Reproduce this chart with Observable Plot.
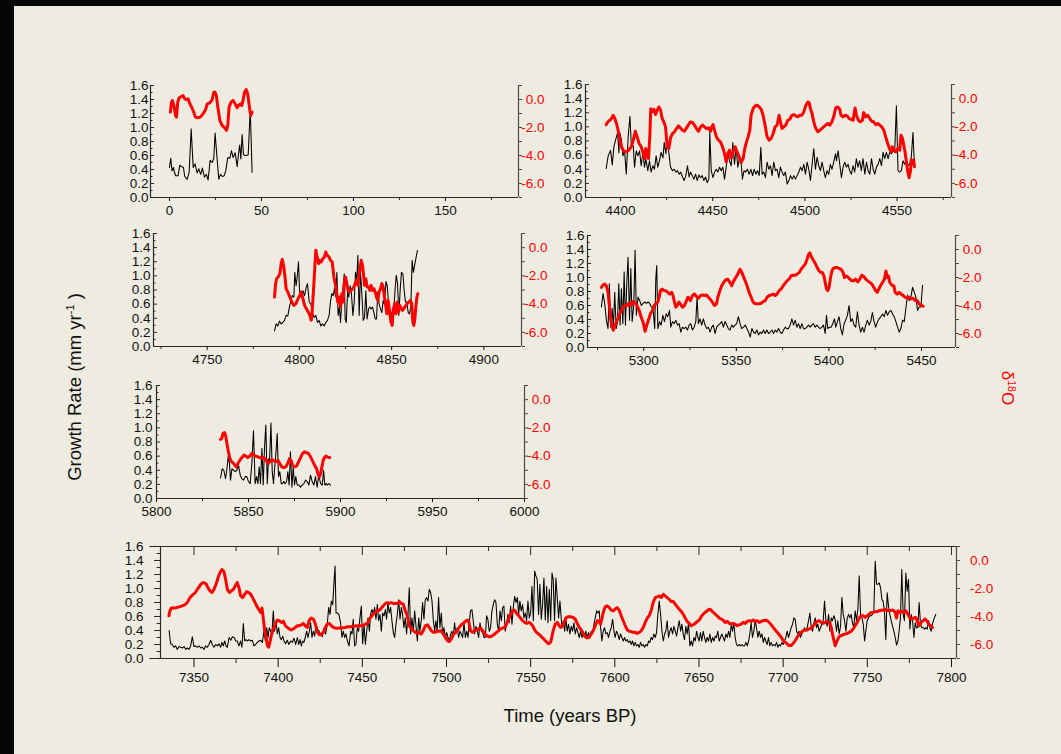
<!DOCTYPE html>
<html><head><meta charset="utf-8">
<script src="https://cdn.jsdelivr.net/npm/d3@7"></script>
<script src="https://cdn.jsdelivr.net/npm/@observablehq/plot@0.6"></script>
<style>
html,body{margin:0;padding:0;}
body{width:1061px;height:754px;background:#EEEBE0;position:relative;overflow:hidden;font-family:"Liberation Sans",Arial,Helvetica,sans-serif;}
#topbar{position:absolute;left:0;top:0;width:1061px;height:6px;background:#050505;}
#leftbar{position:absolute;left:0;top:0;width:14px;height:754px;background:#050505;}
.panel{position:absolute;}
.panel svg{position:absolute;left:0;top:0;overflow:visible;}
.title{position:absolute;white-space:nowrap;font-size:18.5px;line-height:1;color:#111;}
.title sup{font-size:11px;vertical-align:0;position:relative;top:-7px;}
</style></head><body>
<div id="topbar"></div><div id="leftbar"></div>
<div id="chart"></div>
<div class="title" style="left:75px;top:387px;transform:translate(-50%,-50%) rotate(-90deg);">Growth Rate (mm yr<sup>-1</sup> )</div>
<div class="title" style="left:570px;top:716px;transform:translate(-50%,-50%);">Time (years BP)</div>
<div class="title" style="left:1007px;top:388px;transform:translate(-50%,-50%) rotate(90deg);color:#ff0000;font-size:17px;">δ<sup style="font-size:10.5px;top:-6px;">18</sup>O</div>
<script>
// ---------- tick values ----------
const growthTicks = [0, 0.2, 0.4, 0.6, 0.8, 1.0, 1.2, 1.4, 1.6];
const growthMinor = [0.1, 0.3, 0.5, 0.7, 0.9, 1.1, 1.3, 1.5];
const isoTicks = [-6, -4, -2, 0];
const isoAllTicks = [-7, -6, -5, -4, -3, -2, -1, 0, 1];

const xMajorA = [0, 50, 100, 150];
const xMinorA = [25, 75, 125, 175];
const xMajorB = [4400, 4450, 4500, 4550];
const xMinorB = [4425, 4475, 4525, 4575];
const xMajorC = [4750, 4800, 4850, 4900];
const xMinorC = [4725, 4775, 4825, 4875];
const xMajorD = [5300, 5350, 5400, 5450];
const xMinorD = [5275, 5325, 5375, 5425];
const xMajorE = [5800, 5850, 5900, 5950, 6000];
const xMinorE = [5825, 5875, 5925, 5975];
const xMajorF = [7350, 7400, 7450, 7500, 7550, 7600, 7650, 7700, 7750, 7800];
const xMinorF = [7375, 7425, 7475, 7525, 7575, 7625, 7675, 7725, 7775];

// ---------- data: [year BP, value] ----------
const growthA = [[0,0.43],[0.7,0.56],[1.4,0.38],[2.2,0.43],[2.7,0.36],[3.4,0.31],[4.7,0.31],[5.6,0.46],[6.7,0.44],[7.6,0.43],[8.3,0.30],[9.6,0.26],[10.7,0.36],[11.8,0.98],[12.9,0.43],[13.9,0.48],[15.0,0.35],[15.9,0.41],[17.0,0.33],[17.9,0.42],[19.0,0.29],[20.1,0.33],[21.0,0.25],[22.1,0.53],[23.2,0.50],[24.1,0.56],[24.8,0.92],[25.7,0.62],[26.8,0.26],[27.7,0.33],[28.8,0.30],[29.7,0.31],[30.6,0.38],[31.7,0.57],[32.8,0.56],[33.7,0.67],[34.6,0.57],[35.7,0.64],[36.8,0.44],[37.5,0.62],[38.2,0.75],[38.8,0.55],[39.5,0.90],[40.2,0.62],[40.9,0.60],[41.8,0.60],[42.8,0.61],[43.7,1.15],[44.0,1.19],[44.9,0.36]];
const isoA = [[0.5,-0.90],[1.1,-0.19],[1.6,-0.07],[2.4,-0.43],[3.3,-1.14],[3.8,-1.26],[4.5,-0.19],[5.3,0.12],[6.5,0.21],[7.4,0.28],[8.3,0.05],[9.2,-0.02],[10.1,0.05],[11.1,-0.31],[12.1,-0.55],[13.2,-0.90],[14.1,-1.26],[15.4,-1.30],[16.8,-1.26],[18.3,-1.02],[19.6,-0.73],[20.5,-0.31],[21.9,-0.24],[23.2,-0.02],[24.1,0.52],[24.8,0.52],[25.5,0.28],[26.3,-0.55],[27.4,-1.49],[28.6,-1.85],[29.9,-2.01],[31.0,-2.20],[31.7,-1.85],[32.4,-0.55],[33.5,-0.19],[34.6,-0.07],[35.7,-0.31],[36.8,-0.59],[37.5,-0.43],[38.6,-0.31],[39.3,-0.43],[40.0,-0.07],[40.8,0.52],[41.7,0.71],[42.4,0.47],[42.9,0.05],[43.7,-0.78],[44.2,-1.14],[44.9,-0.90]];

const growthB = [[4392.2,0.41],[4393.3,0.59],[4394.6,0.67],[4395.5,0.46],[4396.4,0.72],[4397.5,0.83],[4398.4,0.92],[4399.1,0.63],[4399.6,0.92],[4400.5,0.81],[4401.3,0.59],[4402.2,0.66],[4403.1,0.33],[4404.2,0.88],[4405.1,1.15],[4405.8,0.76],[4406.9,0.73],[4407.6,0.43],[4408.5,0.66],[4409.4,0.59],[4410.3,0.66],[4411.2,0.45],[4412.1,0.64],[4413.0,0.43],[4413.7,0.55],[4414.8,0.38],[4415.7,0.52],[4416.6,0.36],[4417.5,0.45],[4418.4,0.40],[4419.3,0.59],[4420.2,0.43],[4421.1,0.52],[4422.0,0.64],[4423.0,0.56],[4423.7,0.78],[4424.6,0.62],[4425.3,0.81],[4426.2,0.64],[4427.1,0.43],[4428.2,0.38],[4429.1,0.40],[4430.0,0.36],[4430.9,0.38],[4431.8,0.33],[4432.7,0.36],[4433.6,0.29],[4434.5,0.24],[4435.4,0.31],[4436.3,0.45],[4437.2,0.29],[4437.9,0.36],[4438.9,0.31],[4439.8,0.26],[4440.7,0.33],[4441.6,0.24],[4442.5,0.32],[4443.4,0.28],[4444.3,0.31],[4445.2,0.24],[4446.1,0.29],[4447.0,0.21],[4447.9,0.26],[4448.4,0.92],[4449.2,0.38],[4450.1,0.28],[4451.0,0.36],[4451.9,0.40],[4452.8,0.36],[4453.7,0.43],[4454.6,0.38],[4455.5,0.43],[4456.4,0.26],[4457.3,0.43],[4458.2,0.62],[4459.1,0.52],[4460.0,0.45],[4460.9,0.78],[4461.8,0.47],[4462.7,0.71],[4463.6,0.43],[4464.5,0.55],[4465.4,0.50],[4466.1,0.26],[4467.0,0.38],[4467.9,0.36],[4468.8,0.40],[4469.7,0.33],[4470.7,0.40],[4471.6,0.31],[4472.5,0.40],[4473.4,0.33],[4474.3,0.38],[4475.2,0.31],[4476.1,0.71],[4476.8,0.33],[4477.7,0.36],[4478.6,0.28],[4479.5,0.50],[4480.4,0.40],[4481.3,0.45],[4482.2,0.31],[4483.1,0.50],[4484.0,0.38],[4484.9,0.40],[4485.8,0.28],[4486.7,0.43],[4487.6,0.36],[4488.5,0.31],[4489.4,0.36],[4490.4,0.19],[4491.3,0.24],[4492.2,0.31],[4493.1,0.26],[4494.0,0.31],[4494.9,0.26],[4495.8,0.31],[4496.7,0.36],[4497.6,0.43],[4498.5,0.38],[4499.4,0.47],[4500.3,0.33],[4501.2,0.50],[4502.1,0.40],[4503.0,0.24],[4503.9,0.47],[4504.8,0.69],[4505.7,0.40],[4506.6,0.57],[4507.5,0.45],[4508.4,0.38],[4509.3,0.50],[4510.2,0.38],[4511.1,0.28],[4512.0,0.38],[4512.9,0.33],[4513.8,0.47],[4514.7,0.40],[4515.6,0.50],[4516.6,0.62],[4517.1,0.52],[4518.0,0.66],[4518.9,0.47],[4519.8,0.28],[4520.7,0.43],[4521.6,0.50],[4522.5,0.43],[4523.4,0.47],[4524.3,0.38],[4525.2,0.33],[4526.1,0.45],[4527.0,0.36],[4527.9,0.55],[4528.8,0.43],[4529.7,0.52],[4530.6,0.38],[4531.5,0.55],[4532.5,0.33],[4533.4,0.50],[4534.3,0.38],[4535.2,0.33],[4536.1,0.55],[4537.0,0.40],[4537.9,0.33],[4538.8,0.43],[4539.7,0.47],[4540.6,0.55],[4541.5,0.45],[4542.4,0.64],[4543.3,0.55],[4544.2,0.64],[4545.1,0.55],[4546.0,0.64],[4546.9,0.62],[4547.8,0.66],[4548.7,0.64],[4549.6,1.30],[4550.5,0.38],[4551.4,0.36],[4552.3,0.38],[4553.2,0.52],[4554.1,0.47],[4555.0,0.52],[4555.9,0.45],[4556.8,0.47],[4557.7,0.57],[4558.6,0.92],[4559.4,0.45]];
const isoB = [[4392.2,-1.84],[4393.1,-1.65],[4394.2,-1.53],[4395.1,-1.41],[4396.0,-1.18],[4396.9,-1.41],[4397.8,-1.76],[4398.7,-2.24],[4399.6,-2.94],[4400.5,-3.41],[4401.8,-3.72],[4403.1,-3.76],[4404.5,-3.65],[4405.8,-3.41],[4406.9,-2.94],[4408.0,-2.31],[4409.0,-2.71],[4410.1,-3.18],[4411.2,-3.41],[4412.3,-3.88],[4413.0,-4.24],[4413.7,-3.53],[4414.5,-4.12],[4415.2,-4.24],[4415.9,-2.59],[4416.4,-0.71],[4417.2,-0.94],[4418.1,-0.75],[4419.0,-1.13],[4419.9,-0.82],[4420.8,-0.59],[4421.7,-0.82],[4422.6,-1.41],[4423.5,-1.65],[4424.4,-2.00],[4425.3,-3.41],[4426.2,-3.53],[4427.1,-2.78],[4428.2,-2.47],[4429.3,-2.35],[4430.4,-2.12],[4431.4,-1.93],[4432.5,-2.07],[4433.6,-2.24],[4434.7,-2.31],[4435.8,-2.07],[4436.9,-1.84],[4437.9,-1.65],[4439.0,-1.69],[4440.1,-1.88],[4441.2,-2.12],[4442.3,-2.31],[4443.4,-2.00],[4444.5,-1.88],[4445.5,-2.00],[4446.6,-2.12],[4447.7,-2.07],[4448.8,-2.31],[4449.5,-2.00],[4450.2,-1.84],[4451.0,-2.24],[4452.0,-2.71],[4453.1,-2.94],[4454.2,-3.06],[4455.3,-3.41],[4456.4,-3.88],[4457.3,-4.47],[4458.2,-3.88],[4459.1,-3.65],[4460.0,-4.19],[4461.1,-3.76],[4462.2,-3.41],[4463.2,-3.76],[4464.3,-4.12],[4465.4,-4.52],[4466.5,-4.24],[4467.4,-3.53],[4468.3,-3.06],[4469.2,-2.71],[4470.1,-2.24],[4470.8,-1.18],[4471.9,-0.71],[4473.0,-0.52],[4474.1,-0.47],[4475.2,-0.59],[4476.3,-0.75],[4477.3,-1.18],[4478.4,-1.88],[4479.5,-2.71],[4480.6,-2.94],[4481.7,-2.82],[4482.8,-2.47],[4483.8,-2.00],[4484.9,-1.88],[4486.0,-1.18],[4486.7,-1.65],[4487.6,-2.12],[4488.5,-2.00],[4489.6,-1.88],[4490.7,-1.53],[4491.8,-1.46],[4492.9,-1.18],[4494.0,-1.13],[4495.0,-1.22],[4496.1,-1.29],[4497.2,-1.18],[4498.3,-1.18],[4499.4,-0.94],[4500.5,-0.47],[4501.6,-0.24],[4502.3,-0.28],[4503.0,-0.71],[4503.9,-1.06],[4504.8,-1.65],[4505.9,-2.12],[4507.0,-2.35],[4508.1,-2.24],[4509.1,-2.12],[4510.2,-2.00],[4511.3,-1.88],[4512.4,-1.76],[4513.5,-1.88],[4514.6,-1.65],[4515.6,-1.29],[4516.7,-0.66],[4517.8,-0.59],[4518.9,-0.75],[4519.6,-1.18],[4520.7,-1.29],[4521.8,-1.18],[4522.9,-1.22],[4524.0,-1.41],[4525.0,-1.46],[4526.1,-1.53],[4527.2,-0.66],[4527.9,-1.18],[4529.0,-1.53],[4530.1,-1.65],[4531.2,-1.53],[4531.9,-0.99],[4533.0,-1.29],[4534.1,-1.18],[4535.2,-1.41],[4536.2,-1.60],[4537.3,-1.65],[4538.4,-1.84],[4539.5,-1.76],[4540.6,-1.88],[4541.7,-2.00],[4542.8,-2.24],[4543.8,-2.71],[4544.9,-3.18],[4545.8,-3.53],[4546.7,-3.76],[4547.4,-3.41],[4548.2,-3.65],[4549.3,-3.76],[4550.3,-3.53],[4551.4,-3.65],[4552.1,-2.59],[4552.9,-2.82],[4553.6,-3.29],[4554.3,-3.76],[4555.0,-4.47],[4555.8,-5.18],[4556.5,-5.60],[4557.2,-5.18],[4557.7,-4.35],[4558.3,-4.59],[4559.0,-4.35],[4559.4,-4.82]];

const growthC = [[4786.5,0.22],[4787.4,0.32],[4788.3,0.29],[4789.2,0.36],[4790.1,0.32],[4791.0,0.34],[4791.9,0.37],[4792.8,0.44],[4793.7,0.43],[4794.6,0.56],[4795.4,0.64],[4796.1,0.72],[4797.0,0.70],[4797.5,1.05],[4798.2,0.86],[4798.8,0.98],[4799.5,1.20],[4800.1,0.77],[4801.0,0.70],[4801.9,0.79],[4802.8,0.72],[4803.7,0.84],[4804.4,0.89],[4805.3,0.63],[4806.2,0.60],[4807.1,0.48],[4808.0,0.41],[4808.9,0.44],[4809.8,0.34],[4810.7,0.37],[4811.6,0.29],[4812.5,0.32],[4813.4,0.29],[4814.3,0.34],[4815.2,0.37],[4816.1,0.44],[4816.9,0.65],[4817.6,0.75],[4818.3,0.72],[4819.0,0.82],[4819.7,0.70],[4820.3,1.05],[4821.0,0.44],[4821.7,0.56],[4822.3,0.34],[4823.0,0.65],[4823.5,0.77],[4824.3,1.03],[4824.8,0.39],[4825.4,0.34],[4826.1,0.77],[4826.8,0.70],[4827.5,0.86],[4828.2,0.75],[4829.0,0.44],[4829.7,0.63],[4830.4,1.05],[4831.1,0.94],[4831.7,1.29],[4832.4,0.44],[4833.1,1.05],[4833.8,0.77],[4834.6,0.37],[4835.3,0.41],[4836.0,0.79],[4836.7,0.39],[4837.5,0.53],[4838.2,0.56],[4838.9,0.53],[4839.6,0.56],[4840.4,0.48],[4841.1,0.39],[4841.8,0.39],[4842.5,0.77],[4843.2,0.60],[4844.0,0.53],[4844.7,0.48],[4845.4,0.65],[4846.1,0.60],[4846.9,0.92],[4847.6,0.86],[4848.3,0.63],[4849.0,0.41],[4849.7,0.48],[4850.5,0.46],[4851.2,0.53],[4851.9,0.82],[4852.5,1.01],[4853.2,0.89],[4853.9,0.44],[4854.6,0.79],[4855.3,1.05],[4856.1,1.03],[4856.8,0.79],[4857.5,0.63],[4858.2,0.63],[4859.0,0.48],[4859.7,0.46],[4860.4,0.56],[4861.1,1.22],[4861.8,1.05],[4862.6,1.17],[4863.3,1.27],[4864.0,1.36]];
const isoC = [[4786.5,-3.50],[4787.0,-2.67],[4787.6,-2.20],[4788.5,-2.08],[4789.4,-1.84],[4790.1,-1.13],[4790.7,-0.83],[4791.4,-1.25],[4792.1,-1.96],[4792.8,-2.91],[4793.7,-3.14],[4794.8,-3.50],[4795.9,-3.85],[4797.0,-4.09],[4798.1,-3.97],[4799.1,-3.66],[4800.2,-3.38],[4801.0,-3.14],[4801.7,-3.50],[4802.8,-4.09],[4803.8,-4.33],[4804.8,-4.56],[4805.7,-4.80],[4806.4,-5.15],[4806.9,-4.56],[4807.8,-2.67],[4808.4,-1.25],[4808.9,-0.19],[4809.6,-0.66],[4810.4,-1.13],[4811.1,-0.90],[4811.8,-1.02],[4812.7,-0.78],[4813.6,-0.66],[4814.3,-0.31],[4815.1,-0.54],[4816.0,-0.66],[4816.9,-0.90],[4817.8,-1.02],[4818.7,-2.08],[4819.4,-2.55],[4820.1,-3.14],[4820.8,-3.85],[4821.6,-3.50],[4822.3,-4.21],[4823.0,-3.26],[4823.7,-3.85],[4824.3,-2.55],[4825.0,-2.08],[4825.7,-2.55],[4826.4,-3.03],[4827.2,-3.14],[4828.1,-3.03],[4828.8,-2.91],[4829.5,-2.79],[4830.2,-2.55],[4831.0,-2.32],[4831.7,-2.67],[4832.2,-2.08],[4832.9,-1.49],[4833.5,-0.90],[4834.2,-1.25],[4834.7,-1.84],[4835.3,-2.67],[4836.0,-2.20],[4836.7,-2.79],[4837.5,-2.79],[4838.2,-3.03],[4838.9,-2.67],[4839.6,-3.03],[4840.4,-2.91],[4841.1,-3.14],[4841.8,-3.50],[4842.5,-3.74],[4843.2,-3.14],[4844.0,-2.91],[4844.7,-2.55],[4845.4,-2.79],[4846.1,-3.50],[4846.9,-4.21],[4847.4,-4.68],[4848.1,-3.74],[4848.8,-4.44],[4849.6,-5.27],[4850.3,-5.51],[4850.8,-4.44],[4851.6,-3.97],[4852.3,-4.68],[4853.0,-3.85],[4853.7,-4.56],[4854.4,-4.09],[4855.2,-4.33],[4855.9,-4.44],[4856.6,-4.33],[4857.5,-4.14],[4858.4,-3.97],[4859.3,-3.85],[4860.2,-3.74],[4860.9,-3.97],[4861.5,-5.27],[4862.0,-5.51],[4862.6,-5.04],[4863.1,-4.21],[4863.7,-3.50],[4864.2,-3.26]];

const growthD = [[5277.1,0.58],[5278.0,0.77],[5278.9,0.63],[5279.8,0.39],[5280.7,0.27],[5281.4,0.91],[5282.2,0.29],[5282.9,0.56],[5283.6,0.29],[5284.3,0.79],[5285.1,0.27],[5285.8,0.37],[5286.5,0.91],[5287.2,0.32],[5287.9,0.84],[5288.7,0.34],[5289.4,1.08],[5290.1,0.32],[5290.8,0.91],[5291.5,1.29],[5292.3,0.39],[5293.0,1.13],[5293.7,0.37],[5294.6,0.60],[5295.3,1.39],[5296.0,0.46],[5296.9,0.72],[5297.8,0.67],[5298.7,0.60],[5299.6,0.63],[5300.5,0.65],[5301.4,0.63],[5302.3,0.65],[5303.2,0.63],[5304.1,0.58],[5305.0,0.56],[5305.9,0.27],[5306.5,0.98],[5307.0,1.17],[5307.6,0.27],[5308.5,0.37],[5309.4,0.32],[5310.3,0.46],[5311.2,0.37],[5312.1,0.48],[5313.0,0.44],[5313.9,0.53],[5314.6,0.29],[5315.5,0.37],[5316.4,0.34],[5317.3,0.39],[5318.2,0.32],[5319.1,0.34],[5320.0,0.22],[5320.9,0.29],[5321.8,0.27],[5322.7,0.29],[5323.6,0.25],[5324.5,0.32],[5325.4,0.34],[5326.3,0.25],[5327.2,0.29],[5328.1,0.37],[5328.8,0.72],[5329.5,0.34],[5330.4,0.41],[5331.3,0.32],[5332.2,0.41],[5333.1,0.32],[5334.0,0.27],[5334.9,0.29],[5335.8,0.22],[5336.7,0.29],[5337.6,0.32],[5338.5,0.20],[5339.4,0.29],[5340.3,0.32],[5341.2,0.34],[5342.1,0.37],[5343.0,0.29],[5343.9,0.37],[5344.8,0.32],[5345.7,0.27],[5346.6,0.25],[5347.5,0.32],[5348.4,0.29],[5349.3,0.32],[5350.2,0.34],[5351.1,0.44],[5352.0,0.34],[5352.9,0.27],[5353.9,0.29],[5354.8,0.32],[5355.7,0.27],[5356.6,0.22],[5357.5,0.15],[5358.4,0.27],[5359.3,0.22],[5360.2,0.20],[5361.1,0.25],[5362.0,0.18],[5362.9,0.22],[5363.8,0.20],[5364.7,0.25],[5365.6,0.20],[5366.5,0.25],[5367.4,0.20],[5368.3,0.22],[5369.2,0.25],[5370.1,0.20],[5371.0,0.25],[5371.9,0.22],[5372.8,0.27],[5373.7,0.22],[5374.6,0.20],[5375.5,0.25],[5376.4,0.29],[5377.3,0.27],[5378.2,0.27],[5379.1,0.32],[5380.0,0.41],[5380.9,0.32],[5381.8,0.39],[5382.7,0.29],[5383.6,0.34],[5384.5,0.27],[5385.4,0.34],[5386.3,0.27],[5387.2,0.27],[5388.1,0.29],[5389.0,0.32],[5389.9,0.29],[5390.8,0.32],[5391.7,0.34],[5392.6,0.29],[5393.5,0.32],[5394.4,0.29],[5395.3,0.27],[5396.2,0.29],[5397.1,0.32],[5398.0,0.20],[5398.7,0.46],[5399.4,0.27],[5400.3,0.29],[5401.2,0.29],[5402.1,0.34],[5403.0,0.41],[5403.7,0.29],[5404.6,0.37],[5405.5,0.44],[5406.4,0.27],[5407.3,0.18],[5408.2,0.34],[5409.1,0.39],[5410.0,0.46],[5410.9,0.60],[5411.8,0.37],[5412.7,0.41],[5413.6,0.32],[5414.5,0.29],[5415.4,0.51],[5416.3,0.32],[5417.2,0.22],[5418.1,0.29],[5419.0,0.22],[5419.9,0.32],[5420.8,0.39],[5421.7,0.32],[5422.6,0.37],[5423.5,0.50],[5424.4,0.37],[5425.3,0.29],[5426.3,0.37],[5427.2,0.41],[5428.1,0.44],[5429.0,0.48],[5429.9,0.44],[5430.8,0.53],[5431.7,0.46],[5432.6,0.51],[5433.5,0.53],[5434.4,0.48],[5435.3,0.44],[5436.2,0.37],[5437.1,0.29],[5438.0,0.22],[5438.9,0.27],[5439.8,0.39],[5440.7,0.37],[5441.6,0.56],[5442.5,0.75],[5443.4,0.67],[5444.3,0.72],[5445.2,0.86],[5446.1,0.79],[5447.0,0.72],[5447.9,0.53],[5448.8,0.58],[5449.7,0.58],[5450.6,0.89]];
const isoD = [[5277.1,-2.71],[5278.0,-2.54],[5278.9,-2.47],[5279.8,-2.59],[5280.7,-3.06],[5281.4,-4.00],[5282.2,-5.06],[5282.9,-5.53],[5283.6,-5.76],[5284.5,-5.41],[5285.6,-5.06],[5286.7,-4.71],[5287.8,-4.35],[5288.8,-4.12],[5289.9,-4.00],[5291.0,-4.00],[5292.1,-3.81],[5293.2,-4.00],[5294.2,-3.72],[5295.3,-3.81],[5296.4,-4.00],[5297.5,-4.35],[5298.6,-4.82],[5299.6,-5.18],[5300.7,-5.84],[5301.6,-5.41],[5302.5,-5.06],[5303.6,-4.59],[5304.7,-4.35],[5305.6,-4.00],[5306.5,-3.88],[5307.6,-3.76],[5308.3,-3.41],[5309.0,-2.94],[5309.9,-2.82],[5310.8,-2.94],[5311.9,-2.94],[5313.0,-3.06],[5314.0,-3.18],[5315.1,-3.06],[5315.8,-3.29],[5316.6,-3.76],[5317.3,-4.12],[5318.0,-4.00],[5318.9,-3.76],[5319.8,-3.88],[5320.9,-4.12],[5322.0,-4.00],[5323.1,-3.65],[5323.8,-3.41],[5324.5,-3.48],[5325.2,-3.65],[5326.3,-3.29],[5327.4,-3.18],[5328.5,-3.36],[5329.5,-3.48],[5330.6,-3.29],[5331.7,-3.25],[5332.8,-3.29],[5333.9,-3.25],[5334.9,-3.41],[5336.0,-3.58],[5337.1,-3.76],[5338.2,-4.00],[5339.3,-3.88],[5340.0,-3.41],[5341.1,-2.94],[5342.1,-2.59],[5343.2,-2.35],[5344.3,-2.16],[5345.4,-2.12],[5346.5,-2.35],[5347.5,-2.59],[5348.6,-2.24],[5349.7,-2.00],[5350.8,-1.76],[5351.9,-1.41],[5352.6,-1.53],[5353.7,-1.88],[5354.8,-2.24],[5355.8,-2.59],[5356.9,-3.06],[5358.0,-3.41],[5359.1,-3.76],[5360.2,-3.88],[5361.2,-3.88],[5362.3,-3.88],[5363.4,-3.84],[5364.5,-3.72],[5365.6,-3.65],[5366.6,-3.41],[5367.7,-3.29],[5368.8,-3.25],[5369.9,-3.18],[5371.0,-3.29],[5372.0,-3.18],[5373.1,-2.94],[5374.2,-2.82],[5375.3,-2.59],[5376.4,-2.40],[5377.4,-2.24],[5378.5,-2.12],[5379.6,-1.88],[5380.7,-1.84],[5381.8,-1.84],[5382.8,-1.76],[5383.9,-1.65],[5385.0,-1.41],[5386.1,-1.22],[5387.2,-1.06],[5388.2,-0.71],[5389.0,-0.35],[5389.7,-0.24],[5390.4,-0.47],[5391.1,-0.66],[5391.9,-0.82],[5392.6,-0.99],[5393.7,-1.29],[5394.7,-1.53],[5395.8,-1.65],[5396.5,-1.65],[5397.3,-1.88],[5398.0,-2.35],[5398.7,-2.82],[5399.4,-2.94],[5400.1,-2.71],[5400.9,-2.00],[5401.6,-1.53],[5402.3,-1.36],[5403.4,-1.29],[5404.5,-1.29],[5405.5,-1.36],[5406.6,-1.41],[5407.7,-1.65],[5408.4,-2.00],[5409.1,-1.88],[5410.2,-1.95],[5411.3,-2.12],[5412.4,-2.24],[5413.5,-2.24],[5414.5,-2.12],[5415.6,-2.31],[5416.7,-2.12],[5417.8,-1.84],[5418.9,-1.93],[5419.9,-2.12],[5421.0,-2.24],[5422.1,-2.35],[5423.2,-2.47],[5424.3,-2.71],[5425.3,-2.94],[5426.1,-3.06],[5427.0,-2.82],[5427.9,-2.59],[5429.0,-2.35],[5430.0,-2.12],[5430.8,-1.53],[5431.5,-2.00],[5432.2,-1.88],[5432.9,-2.35],[5433.6,-2.47],[5434.4,-2.59],[5435.1,-2.59],[5435.8,-3.06],[5436.9,-3.18],[5438.0,-3.06],[5439.0,-3.18],[5440.1,-3.29],[5441.2,-3.41],[5442.3,-3.48],[5443.4,-3.41],[5444.4,-3.53],[5445.5,-3.48],[5446.6,-3.65],[5447.7,-3.65],[5448.8,-3.88],[5449.8,-4.00],[5450.9,-4.05]];

const growthE = [[5834.8,0.29],[5835.7,0.42],[5836.6,0.40],[5837.5,0.28],[5838.2,0.40],[5839.0,0.60],[5839.7,0.49],[5840.2,0.26],[5841.0,0.42],[5841.9,0.40],[5842.8,0.38],[5843.7,0.40],[5844.6,0.47],[5845.5,0.33],[5846.4,0.28],[5847.3,0.26],[5848.2,0.31],[5849.1,0.31],[5850.0,0.24],[5850.9,0.21],[5851.8,0.49],[5852.7,0.96],[5853.6,0.21],[5854.4,0.31],[5855.1,0.21],[5855.8,0.45],[5856.5,0.21],[5857.3,0.71],[5858.0,0.19],[5858.7,0.71],[5859.4,1.04],[5860.2,0.21],[5860.9,0.56],[5861.4,0.49],[5862.2,1.07],[5862.9,0.38],[5863.6,0.21],[5864.1,0.40],[5864.9,0.64],[5865.6,0.92],[5866.3,0.31],[5867.0,0.38],[5867.8,0.21],[5868.5,0.21],[5869.2,0.24],[5869.9,0.21],[5870.7,0.24],[5871.4,0.38],[5872.1,0.19],[5872.8,0.66],[5873.6,0.16],[5874.3,0.45],[5875.0,0.19],[5875.7,0.31],[5876.5,0.19],[5877.4,0.19],[5878.3,0.16],[5879.2,0.19],[5880.1,0.21],[5881.0,0.26],[5881.9,0.24],[5882.8,0.19],[5883.7,0.33],[5884.6,0.24],[5885.5,0.19],[5886.4,0.31],[5887.3,0.16],[5888.2,0.33],[5889.2,0.21],[5890.1,0.19],[5890.8,0.40],[5891.5,0.19],[5892.2,0.21],[5892.8,0.19],[5893.7,0.21],[5894.6,0.19]];
const isoE = [[5834.8,-2.81],[5835.5,-2.74],[5836.2,-2.38],[5837.0,-2.33],[5837.7,-2.62],[5838.4,-3.21],[5839.1,-3.69],[5839.9,-4.17],[5840.8,-4.40],[5841.7,-4.48],[5842.6,-4.64],[5843.5,-4.76],[5844.2,-4.52],[5845.3,-4.29],[5846.4,-4.10],[5847.5,-3.93],[5848.6,-4.00],[5849.6,-4.10],[5850.7,-4.00],[5851.8,-3.81],[5852.9,-3.93],[5854.0,-4.00],[5855.1,-4.05],[5856.2,-4.10],[5857.3,-4.17],[5858.3,-4.10],[5859.4,-4.24],[5860.5,-4.52],[5861.6,-4.40],[5862.7,-4.24],[5863.8,-4.33],[5864.9,-4.40],[5866.0,-4.29],[5867.0,-4.52],[5868.1,-4.76],[5869.2,-4.81],[5870.3,-4.76],[5871.4,-4.48],[5872.3,-4.17],[5873.2,-4.33],[5873.9,-4.64],[5875.0,-4.76],[5876.1,-4.71],[5877.2,-4.40],[5878.3,-4.10],[5879.4,-3.81],[5880.5,-3.69],[5881.5,-3.76],[5882.6,-3.81],[5883.7,-4.05],[5884.8,-4.33],[5885.9,-4.64],[5887.0,-4.88],[5887.7,-5.24],[5888.4,-5.48],[5889.2,-5.24],[5889.9,-4.76],[5890.6,-4.29],[5891.3,-4.10],[5892.0,-4.00],[5892.8,-4.05],[5893.5,-4.10],[5894.2,-4.10]];

const growthF = [[7335.2,0.40],[7336.1,0.21],[7337.1,0.20],[7338.1,0.16],[7339.1,0.18],[7340.1,0.13],[7341.1,0.17],[7342.1,0.16],[7343.1,0.15],[7344.1,0.17],[7345.1,0.13],[7346.0,0.15],[7347.0,0.13],[7348.0,0.18],[7349.0,0.31],[7350.0,0.17],[7351.0,0.18],[7352.0,0.16],[7353.0,0.18],[7354.0,0.15],[7355.0,0.16],[7355.9,0.13],[7356.9,0.18],[7357.9,0.16],[7358.9,0.20],[7359.9,0.26],[7360.9,0.20],[7361.9,0.16],[7362.9,0.20],[7363.9,0.18],[7364.9,0.21],[7365.8,0.16],[7366.6,0.23],[7367.4,0.18],[7368.2,0.25],[7369.0,0.18],[7369.8,0.16],[7370.8,0.30],[7371.8,0.26],[7372.8,0.31],[7373.8,0.30],[7374.8,0.25],[7375.7,0.25],[7376.7,0.18],[7377.7,0.25],[7378.5,0.16],[7379.3,0.50],[7380.1,0.25],[7380.9,0.27],[7381.7,0.25],[7382.7,0.27],[7383.7,0.25],[7384.7,0.26],[7385.6,0.18],[7386.6,0.20],[7387.6,0.23],[7388.6,0.25],[7389.6,0.26],[7390.6,0.23],[7391.6,0.39],[7392.4,0.25],[7393.2,0.44],[7394.0,0.30],[7394.7,0.44],[7395.5,0.39],[7396.3,0.35],[7397.1,0.68],[7397.9,0.39],[7398.7,0.54],[7399.5,0.35],[7400.3,0.44],[7401.1,0.30],[7401.9,0.27],[7402.7,0.32],[7403.5,0.25],[7404.4,0.21],[7405.4,0.26],[7406.4,0.20],[7407.4,0.25],[7408.4,0.23],[7409.4,0.29],[7410.4,0.20],[7411.4,0.30],[7412.2,0.20],[7413.0,0.27],[7413.8,0.18],[7414.5,0.25],[7415.3,0.23],[7416.1,0.30],[7416.9,0.39],[7417.7,0.30],[7418.5,0.39],[7419.3,0.51],[7420.1,0.30],[7420.9,0.39],[7421.7,0.32],[7422.5,0.49],[7423.3,0.42],[7424.3,0.39],[7425.2,0.35],[7426.2,0.31],[7427.2,0.42],[7428.2,0.35],[7429.2,0.49],[7430.0,0.73],[7430.8,0.63],[7431.6,0.82],[7432.4,0.77],[7433.2,1.10],[7433.8,1.32],[7434.4,0.65],[7435.1,0.65],[7436.1,0.63],[7437.1,0.51],[7437.9,0.30],[7438.7,0.39],[7439.5,0.30],[7440.3,0.35],[7441.1,0.25],[7442.1,0.18],[7443.1,0.39],[7443.9,0.35],[7444.6,0.56],[7445.4,0.18],[7446.2,0.20],[7447.0,0.44],[7447.8,0.39],[7448.6,0.58],[7449.4,0.75],[7450.2,0.21],[7451.0,0.49],[7451.8,0.20],[7452.6,0.39],[7453.4,0.58],[7454.2,0.39],[7454.9,0.63],[7455.7,0.70],[7456.5,0.63],[7457.3,0.73],[7458.1,0.56],[7458.9,0.77],[7459.7,0.54],[7460.5,0.63],[7461.3,0.39],[7462.1,0.65],[7462.9,0.61],[7463.7,0.70],[7464.4,0.56],[7465.2,0.80],[7466.0,0.65],[7466.8,0.73],[7467.6,0.54],[7468.4,0.37],[7469.2,0.30],[7470.0,0.49],[7470.8,0.63],[7471.6,0.84],[7472.4,0.56],[7473.2,0.73],[7473.9,0.63],[7474.7,0.44],[7475.5,0.58],[7476.3,0.35],[7477.1,0.61],[7477.9,1.01],[7478.7,0.35],[7479.5,0.58],[7480.3,0.39],[7481.1,0.68],[7481.9,0.46],[7482.7,0.25],[7483.5,0.58],[7484.2,0.39],[7485.0,0.54],[7485.8,0.80],[7486.6,0.56],[7487.4,0.84],[7488.2,0.87],[7489.0,0.82],[7489.8,0.99],[7490.6,0.94],[7491.4,0.82],[7492.2,0.54],[7493.0,0.39],[7493.7,0.54],[7494.5,0.39],[7495.3,0.87],[7496.1,0.44],[7496.9,0.65],[7497.7,0.35],[7498.5,0.44],[7499.3,0.30],[7500.1,0.37],[7500.9,0.30],[7501.7,0.25],[7502.5,0.35],[7503.3,0.39],[7504.0,0.30],[7504.8,0.51],[7505.6,0.35],[7506.4,0.44],[7507.2,0.30],[7508.0,0.39],[7508.8,0.35],[7509.6,0.30],[7510.4,0.51],[7511.2,0.30],[7512.0,0.39],[7512.8,0.30],[7513.5,0.51],[7514.3,0.68],[7515.1,0.70],[7515.9,0.54],[7516.7,0.35],[7517.5,0.46],[7518.3,0.39],[7519.1,0.30],[7519.9,0.51],[7520.7,0.39],[7521.5,0.37],[7522.3,0.30],[7523.1,0.30],[7523.8,0.61],[7524.6,0.56],[7525.4,0.39],[7526.2,0.44],[7527.0,0.68],[7527.8,0.77],[7528.6,0.84],[7529.4,0.80],[7530.2,0.49],[7531.0,0.39],[7531.8,0.68],[7532.6,0.54],[7533.3,0.72],[7534.1,0.75],[7534.9,0.39],[7535.7,0.49],[7536.5,0.63],[7537.3,0.51],[7538.1,0.75],[7538.9,0.49],[7539.7,0.73],[7540.5,0.89],[7541.3,0.80],[7542.1,0.87],[7542.9,0.63],[7543.6,0.82],[7544.4,0.68],[7545.2,0.77],[7546.0,0.58],[7546.8,0.65],[7547.6,0.54],[7548.4,0.82],[7549.2,0.58],[7550.0,0.65],[7550.8,1.03],[7551.6,0.54],[7552.4,1.25],[7553.1,1.18],[7553.9,1.13],[7554.7,0.63],[7555.5,1.06],[7556.3,0.56],[7557.1,0.77],[7557.9,1.15],[7558.7,0.55],[7559.5,1.03],[7560.3,0.51],[7561.1,0.99],[7561.9,0.54],[7562.7,1.22],[7563.4,1.13],[7564.2,0.54],[7565.0,1.15],[7565.8,0.87],[7566.6,0.58],[7567.4,0.82],[7568.6,0.44],[7569.4,0.54],[7570.2,0.39],[7570.9,0.58],[7571.7,0.39],[7572.5,0.49],[7573.3,0.35],[7574.1,0.46],[7574.9,0.39],[7575.7,0.51],[7576.5,0.35],[7577.3,0.44],[7578.1,0.37],[7578.9,0.30],[7579.7,0.39],[7580.5,0.30],[7581.2,0.35],[7582.0,0.32],[7582.8,0.39],[7583.6,0.30],[7584.4,0.37],[7585.2,0.32],[7586.0,0.39],[7586.8,0.35],[7587.6,0.49],[7588.4,0.58],[7589.2,0.68],[7590.0,0.65],[7590.7,0.68],[7591.5,0.46],[7592.3,0.25],[7593.1,0.39],[7593.9,0.44],[7594.7,0.35],[7595.5,0.37],[7596.3,0.30],[7597.1,0.39],[7597.9,0.44],[7598.7,0.56],[7599.5,0.39],[7600.2,0.30],[7601.0,0.39],[7601.8,0.35],[7602.6,0.27],[7603.4,0.35],[7604.2,0.30],[7605.0,0.25],[7605.8,0.30],[7606.6,0.25],[7607.4,0.27],[7608.2,0.23],[7609.0,0.25],[7609.8,0.20],[7610.5,0.25],[7611.3,0.18],[7612.1,0.23],[7612.9,0.18],[7613.7,0.20],[7614.5,0.16],[7615.3,0.23],[7616.1,0.18],[7616.9,0.20],[7617.7,0.16],[7618.5,0.20],[7619.3,0.18],[7620.1,0.25],[7620.8,0.23],[7621.6,0.30],[7622.4,0.27],[7623.2,0.35],[7624.0,0.30],[7624.8,0.37],[7625.6,0.63],[7626.4,0.82],[7627.2,0.63],[7628.0,0.39],[7628.8,0.25],[7629.6,0.35],[7630.3,0.39],[7631.1,0.54],[7631.9,0.30],[7632.7,0.39],[7633.5,0.44],[7634.3,0.35],[7635.1,0.46],[7635.9,0.39],[7636.7,0.32],[7637.5,0.44],[7638.3,0.54],[7639.1,0.39],[7639.9,0.49],[7640.6,0.35],[7641.4,0.27],[7642.2,0.46],[7643.0,0.35],[7643.8,0.51],[7644.6,0.18],[7645.4,0.25],[7646.2,0.18],[7647.0,0.30],[7647.8,0.25],[7648.6,0.39],[7649.4,0.30],[7650.1,0.25],[7650.9,0.37],[7651.7,0.25],[7652.5,0.39],[7653.3,0.30],[7654.1,0.23],[7654.9,0.30],[7655.7,0.25],[7656.5,0.35],[7657.3,0.23],[7658.1,0.30],[7658.9,0.25],[7659.7,0.32],[7660.4,0.30],[7661.2,0.39],[7662.0,0.25],[7662.8,0.30],[7663.6,0.35],[7664.4,0.30],[7665.2,0.25],[7666.0,0.35],[7666.8,0.30],[7667.6,0.39],[7668.4,0.30],[7669.2,0.49],[7669.9,0.39],[7670.7,0.51],[7671.5,0.30],[7672.3,0.20],[7673.1,0.18],[7673.9,0.20],[7674.7,0.18],[7675.5,0.20],[7676.3,0.18],[7677.1,0.18],[7677.9,0.23],[7678.7,0.18],[7679.5,0.25],[7680.2,0.35],[7681.0,0.51],[7681.8,0.30],[7682.6,0.39],[7683.4,0.54],[7684.2,0.44],[7685.0,0.30],[7685.8,0.39],[7686.6,0.30],[7687.4,0.35],[7688.2,0.23],[7689.0,0.30],[7689.7,0.25],[7690.5,0.20],[7691.3,0.30],[7692.1,0.18],[7692.9,0.23],[7693.7,0.18],[7694.5,0.20],[7695.3,0.18],[7696.1,0.23],[7696.9,0.16],[7697.7,0.20],[7698.5,0.18],[7699.3,0.23],[7700.0,0.20],[7700.8,0.25],[7701.6,0.30],[7702.4,0.39],[7703.2,0.30],[7704.0,0.37],[7704.8,0.44],[7705.6,0.49],[7706.4,0.58],[7707.2,0.56],[7708.0,0.39],[7708.8,0.35],[7709.5,0.39],[7710.3,0.30],[7711.1,0.35],[7711.9,0.39],[7712.7,0.44],[7713.5,0.39],[7714.3,0.44],[7715.1,0.54],[7715.9,0.65],[7716.7,0.44],[7717.5,0.39],[7718.3,0.51],[7719.1,0.58],[7719.8,0.44],[7720.6,0.49],[7721.4,0.39],[7722.2,0.44],[7723.0,0.49],[7723.8,0.54],[7724.6,0.82],[7725.4,0.54],[7726.2,0.46],[7727.0,0.63],[7727.8,0.39],[7728.6,0.58],[7729.3,0.54],[7730.1,0.61],[7730.9,0.56],[7731.7,0.39],[7732.5,0.54],[7733.3,0.35],[7734.1,0.46],[7734.9,0.87],[7735.7,0.63],[7736.5,0.54],[7737.3,0.39],[7738.1,0.58],[7738.9,0.63],[7739.6,0.58],[7740.4,0.63],[7741.2,0.51],[7742.0,0.44],[7742.8,0.68],[7743.6,0.54],[7744.4,0.70],[7745.2,1.18],[7746.0,0.63],[7746.8,0.58],[7747.6,0.49],[7748.4,0.25],[7749.1,0.39],[7749.9,0.54],[7750.7,0.58],[7751.5,0.61],[7752.3,0.61],[7753.1,0.63],[7753.9,0.68],[7754.7,1.39],[7755.5,1.06],[7756.3,1.06],[7757.1,1.08],[7757.9,1.01],[7758.7,0.84],[7759.4,0.82],[7760.2,0.68],[7761.0,0.27],[7761.8,0.94],[7762.6,0.75],[7763.4,0.63],[7764.2,0.54],[7765.0,0.46],[7765.8,0.39],[7766.6,0.30],[7767.4,0.19],[7768.2,0.25],[7768.9,0.39],[7769.7,0.58],[7770.5,1.27],[7771.3,0.63],[7772.1,0.54],[7772.9,1.22],[7773.7,0.96],[7774.5,1.13],[7775.3,0.42],[7776.1,0.63],[7776.9,0.54],[7777.7,0.30],[7778.5,0.51],[7779.2,0.44],[7780.0,0.44],[7780.8,0.80],[7781.6,0.49],[7782.4,0.44],[7783.2,0.44],[7784.0,0.42],[7784.8,0.44],[7785.6,0.42],[7786.4,0.54],[7787.2,0.44],[7788.0,0.39],[7788.7,0.49],[7789.5,0.56],[7790.7,0.63]];
const isoF = [[7335.1,-3.95],[7335.7,-3.59],[7336.5,-3.40],[7338.1,-3.40],[7339.7,-3.36],[7341.3,-3.31],[7342.9,-3.24],[7344.5,-3.17],[7346.0,-3.00],[7347.6,-2.65],[7349.2,-2.46],[7350.8,-2.29],[7352.4,-1.99],[7354.0,-1.70],[7355.5,-1.58],[7357.1,-1.65],[7358.3,-1.94],[7359.5,-2.17],[7360.7,-2.29],[7361.9,-2.06],[7363.1,-1.70],[7364.3,-1.23],[7365.4,-0.87],[7366.6,-0.64],[7367.8,-0.80],[7368.8,-1.35],[7369.8,-2.06],[7371.0,-2.29],[7372.2,-2.17],[7373.4,-2.06],[7374.5,-1.82],[7375.7,-1.58],[7376.7,-1.94],[7377.7,-2.53],[7378.9,-2.65],[7380.1,-2.41],[7381.3,-2.22],[7382.5,-2.29],[7383.7,-2.41],[7384.8,-2.65],[7386.0,-2.93],[7387.2,-3.24],[7388.4,-3.48],[7389.6,-3.71],[7390.4,-3.40],[7391.2,-4.18],[7392.0,-5.01],[7392.8,-5.48],[7393.6,-6.08],[7394.4,-6.19],[7395.1,-5.83],[7395.9,-5.37],[7397.1,-4.89],[7398.3,-4.54],[7399.5,-4.26],[7400.7,-4.30],[7401.9,-4.42],[7403.1,-4.35],[7404.3,-4.66],[7405.4,-4.78],[7406.6,-4.89],[7407.8,-4.96],[7409.0,-4.89],[7410.2,-4.78],[7411.4,-4.66],[7412.6,-4.66],[7413.8,-4.59],[7414.9,-4.49],[7416.1,-4.66],[7417.3,-4.78],[7418.5,-4.26],[7419.7,-4.11],[7420.9,-4.18],[7422.1,-4.54],[7423.3,-5.13],[7424.4,-5.30],[7425.6,-5.30],[7426.8,-5.13],[7428.0,-4.78],[7429.2,-4.54],[7430.4,-4.49],[7431.6,-4.66],[7432.8,-4.78],[7433.9,-4.82],[7435.1,-4.85],[7436.3,-4.82],[7437.5,-4.82],[7438.7,-4.80],[7439.9,-4.78],[7441.1,-4.73],[7442.3,-4.73],[7443.5,-4.73],[7444.6,-4.70],[7445.8,-4.68],[7447.0,-4.66],[7448.2,-4.66],[7449.4,-4.66],[7450.6,-4.64],[7451.8,-4.54],[7453.0,-4.49],[7454.2,-4.18],[7455.3,-4.02],[7456.5,-3.83],[7457.7,-3.71],[7458.9,-3.59],[7460.1,-3.55],[7461.3,-3.40],[7462.5,-3.24],[7463.7,-3.07],[7464.8,-3.00],[7466.0,-3.07],[7467.2,-3.00],[7468.4,-3.07],[7469.6,-3.07],[7470.8,-3.07],[7472.0,-2.93],[7473.2,-3.07],[7474.3,-3.12],[7475.5,-3.59],[7476.7,-3.95],[7477.9,-4.66],[7479.1,-4.89],[7480.3,-5.01],[7481.5,-5.13],[7482.7,-5.20],[7483.8,-5.13],[7485.0,-5.25],[7486.2,-5.01],[7487.4,-4.66],[7488.6,-4.59],[7489.8,-4.78],[7491.0,-5.01],[7492.2,-5.13],[7493.4,-5.13],[7494.5,-5.01],[7495.7,-5.06],[7496.9,-5.01],[7498.1,-5.25],[7499.3,-5.48],[7500.5,-5.72],[7501.7,-5.79],[7502.9,-5.60],[7504.0,-5.30],[7505.2,-5.13],[7506.4,-5.01],[7507.6,-4.78],[7508.8,-4.59],[7510.0,-4.49],[7511.2,-4.35],[7512.4,-4.26],[7513.2,-4.35],[7514.3,-5.01],[7515.5,-5.13],[7516.7,-5.01],[7517.9,-4.96],[7519.1,-4.89],[7520.3,-4.82],[7521.5,-5.01],[7522.7,-5.25],[7523.9,-5.37],[7525.0,-5.44],[7526.2,-5.44],[7527.4,-5.37],[7528.6,-5.25],[7529.8,-5.13],[7531.0,-5.01],[7532.2,-4.89],[7533.4,-4.82],[7534.5,-4.78],[7535.7,-4.54],[7536.9,-4.18],[7538.1,-3.83],[7539.3,-3.59],[7540.5,-3.55],[7541.7,-3.78],[7542.9,-3.95],[7544.0,-4.11],[7545.2,-4.30],[7546.4,-4.42],[7547.6,-4.49],[7548.8,-4.42],[7550.0,-4.49],[7551.2,-4.66],[7552.4,-4.96],[7553.5,-5.13],[7554.7,-5.25],[7555.9,-5.37],[7557.1,-5.53],[7558.3,-5.67],[7559.5,-5.83],[7560.7,-5.95],[7561.9,-5.83],[7562.6,-5.48],[7563.4,-5.01],[7564.6,-4.54],[7565.8,-4.42],[7567.0,-4.66],[7567.8,-4.78],[7568.6,-4.73],[7569.8,-4.49],[7570.9,-4.11],[7572.1,-4.02],[7573.7,-4.02],[7575.3,-4.07],[7576.5,-4.18],[7577.7,-4.49],[7578.9,-4.78],[7580.1,-4.96],[7581.2,-5.20],[7582.4,-5.44],[7583.6,-5.53],[7584.8,-5.48],[7586.0,-5.25],[7587.2,-5.01],[7588.4,-4.66],[7589.6,-4.30],[7590.7,-4.35],[7591.5,-4.54],[7592.3,-4.18],[7593.1,-3.71],[7594.3,-3.31],[7595.5,-3.24],[7596.7,-3.36],[7597.9,-3.55],[7599.1,-3.59],[7600.2,-3.48],[7601.4,-3.36],[7602.6,-3.55],[7603.8,-3.95],[7605.0,-4.30],[7606.2,-4.66],[7607.4,-4.96],[7608.6,-5.06],[7609.8,-5.08],[7610.9,-5.13],[7612.1,-5.13],[7613.3,-5.20],[7614.5,-5.13],[7615.7,-5.01],[7616.9,-4.78],[7618.1,-4.42],[7619.3,-4.11],[7620.4,-3.95],[7621.6,-3.59],[7622.8,-3.00],[7624.0,-2.65],[7625.2,-2.60],[7626.4,-2.53],[7627.6,-2.65],[7628.8,-2.41],[7629.9,-2.53],[7631.1,-2.65],[7632.3,-2.77],[7633.5,-2.93],[7634.7,-2.93],[7635.9,-3.12],[7637.1,-3.31],[7638.3,-3.48],[7639.5,-3.64],[7640.6,-3.83],[7641.8,-4.11],[7643.0,-4.35],[7644.2,-4.49],[7645.4,-4.66],[7646.6,-4.59],[7647.8,-4.49],[7649.0,-4.35],[7650.1,-4.26],[7651.3,-4.02],[7652.5,-3.83],[7653.7,-3.71],[7654.9,-3.59],[7656.1,-3.48],[7657.3,-3.55],[7658.5,-3.71],[7659.7,-3.83],[7660.8,-3.95],[7662.0,-4.11],[7663.2,-4.18],[7664.4,-4.26],[7665.6,-4.42],[7666.8,-4.35],[7668.0,-4.49],[7669.2,-4.54],[7670.3,-4.49],[7671.5,-4.54],[7672.7,-4.66],[7673.9,-4.59],[7675.1,-4.54],[7676.3,-4.42],[7677.5,-4.49],[7678.7,-4.35],[7679.8,-4.30],[7681.0,-4.35],[7682.2,-4.26],[7683.4,-4.35],[7684.6,-4.30],[7685.8,-4.42],[7687.0,-4.35],[7688.2,-4.30],[7689.4,-4.26],[7690.5,-4.30],[7691.7,-4.42],[7692.9,-4.59],[7694.1,-4.78],[7695.3,-4.96],[7696.5,-5.13],[7697.7,-5.30],[7698.9,-5.48],[7700.0,-5.72],[7701.2,-5.83],[7702.4,-5.96],[7703.6,-6.08],[7704.8,-6.08],[7706.0,-5.91],[7707.2,-5.72],[7708.4,-5.48],[7709.5,-5.30],[7710.7,-5.13],[7711.9,-5.01],[7713.1,-4.96],[7714.3,-4.96],[7715.5,-4.89],[7716.7,-4.82],[7717.9,-4.66],[7719.1,-4.49],[7720.2,-4.35],[7721.4,-4.30],[7722.6,-4.42],[7723.8,-4.49],[7725.0,-4.42],[7726.2,-4.35],[7727.4,-4.42],[7728.6,-4.78],[7729.7,-5.48],[7730.9,-6.08],[7732.1,-5.72],[7733.3,-5.44],[7734.5,-5.37],[7735.7,-5.30],[7736.9,-5.25],[7738.1,-5.20],[7739.2,-5.13],[7740.4,-5.06],[7741.6,-4.89],[7742.8,-4.66],[7744.0,-4.42],[7745.2,-4.11],[7746.4,-3.95],[7747.6,-3.95],[7748.8,-4.07],[7749.9,-3.95],[7751.1,-3.83],[7752.3,-3.71],[7753.5,-3.71],[7754.7,-3.66],[7755.9,-3.64],[7757.1,-3.59],[7758.3,-3.55],[7759.4,-3.55],[7760.6,-3.50],[7761.8,-3.55],[7763.0,-3.59],[7764.2,-3.55],[7765.4,-3.55],[7766.6,-3.71],[7767.4,-4.11],[7768.2,-3.59],[7769.3,-3.71],[7770.5,-3.64],[7771.7,-3.71],[7772.9,-3.59],[7774.1,-3.83],[7775.3,-4.11],[7776.5,-4.18],[7777.7,-4.11],[7778.8,-4.07],[7779.6,-4.30],[7780.8,-4.66],[7782.0,-4.42],[7783.2,-4.30],[7784.4,-4.18],[7785.6,-4.35],[7786.8,-4.59],[7787.6,-4.66],[7788.7,-4.78]];

// ---------- panel layout (frame: left, top, width, height in px) ----------
const panels = [
  {growth: growthA, iso: isoA, frame: [150, 85, 368, 112], xDomain: [-10.3, 189.7], xMajor: xMajorA, xMinor: xMinorA, yPad: 2},
  {growth: growthB, iso: isoB, frame: [585, 84, 366, 113], xDomain: [4381, 4579.5], xMajor: xMajorB, xMinor: xMinorB, yPad: 3},
  {growth: growthC, iso: isoC, frame: [153, 233, 368, 113], xDomain: [4720.9, 4920.4], xMajor: xMajorC, xMinor: xMinorC, yPad: 3},
  {growth: growthD, iso: isoD, frame: [587, 235, 368, 112], xDomain: [5269.6, 5468.4], xMajor: xMajorD, xMinor: xMinorD, yPad: 3},
  {growth: growthE, iso: isoE, frame: [156, 385, 368, 113], xDomain: [5800, 6000], xMajor: xMajorE, xMinor: xMinorE, yPad: 4},
  {growth: growthF, iso: isoF, frame: [160, 546, 796, 112], xDomain: [7330.1, 7803], lineStart: 7323.7, xMajor: xMajorF, xMinor: xMinorF, big: true}
];

const FONT = "'Liberation Sans', Arial, Helvetica, sans-serif";
const AXIS = "#2a2a2a";
const RED = "#ff0000";
const chart = document.getElementById("chart");

function makePanel(p) {
  const mL = 60, mR = 60, mT = 14, mB = 34;
  const [fx, fy, fw, fh] = p.frame;
  const W = fw + mL + mR, H = fh + mT + mB;
  const div = document.createElement("div");
  div.className = "panel";
  div.style.left = (fx - mL) + "px";
  div.style.top = (fy - mT) + "px";
  div.style.width = W + "px";
  div.style.height = H + "px";
  const base = {
    width: W, height: H, marginLeft: mL, marginRight: mR, marginTop: mT, marginBottom: mB,
    style: {fontSize: "13.5px", fontFamily: FONT, background: "transparent", color: "#111", overflow: "visible"}
  };
  const x = {domain: p.xDomain, axis: null};

  // ---- growth rate layer (left axis) ----
  const gm = [];
  if (p.big) {
    gm.push(Plot.ruleY([0, 1.6], {y: d => d, x1: p.lineStart, x2: p.xDomain[1], stroke: AXIS, strokeWidth: 1.2}));
    gm.push(Plot.tickX(p.xMajor, {x: d => d, insetBottom: fh - 9, stroke: AXIS}));
    gm.push(Plot.tickX(p.xMinor, {x: d => d, insetBottom: fh - 5, stroke: AXIS}));
    gm.push(Plot.axisY({ticks: growthTicks, tickSize: 6, tickFormat: () => "", label: null, color: AXIS}));
    gm.push(Plot.axisY({ticks: growthMinor, tickSize: 3.5, tickFormat: () => "", label: null, color: AXIS}));
    gm.push(Plot.axisY({ticks: growthTicks, tickSize: 0, tickPadding: 17, tickFormat: d => d.toFixed(1), label: null, color: "#111"}));
    gm.push(Plot.axisX({ticks: p.xMajor, tickSize: 9, tickPadding: 4.5, tickFormat: d => String(d), label: null, color: "#111"}));
    gm.push(Plot.axisX({ticks: p.xMinor, tickSize: 5, tickFormat: () => "", label: null, color: AXIS}));
  } else {
    gm.push(Plot.ruleY([0], {stroke: AXIS, strokeWidth: 1.2}));
    gm.push(Plot.tickY(growthTicks, {y: d => d, insetRight: fw - 4, stroke: AXIS}));
    gm.push(Plot.tickY(growthMinor, {y: d => d, insetRight: fw - 2.5, stroke: AXIS}));
    gm.push(Plot.axisY({ticks: growthTicks, tickSize: 0, tickPadding: p.yPad, tickFormat: d => d.toFixed(1), label: null, color: "#111"}));
    gm.push(Plot.axisX({ticks: p.xMajor, tickSize: 4, tickPadding: 4, tickFormat: d => String(d), label: null, color: "#111"}));
    gm.push(Plot.axisX({ticks: p.xMinor, tickSize: 3, tickFormat: () => "", label: null, color: AXIS}));
  }
  gm.push(Plot.ruleX([p.xDomain[0]], {stroke: AXIS, strokeWidth: 1.2}));
  gm.push(Plot.line(p.growth, {x: d => d[0], y: d => d[1], stroke: "#000", strokeWidth: 1.05}));

  const g = Plot.plot({...base, x, y: {domain: [0, 1.6], axis: null}, marks: gm});

  // ---- delta 18O layer (right axis) ----
  const im = [
    Plot.ruleX([p.xDomain[1]], {stroke: "#4a4a4a", strokeWidth: 1.2}),
    Plot.axisY({anchor: "right", ticks: isoAllTicks, tickSize: 3, tickFormat: () => "", label: null, color: "#4a4a4a"}),
    p.big
      ? Plot.axisY({anchor: "right", ticks: isoTicks, tickSize: 0, tickPadding: 13.5, textAnchor: "start", tickFormat: d => d.toFixed(1), label: null, color: RED})
      : Plot.axisY({anchor: "right", ticks: isoTicks, tickSize: 0, tickPadding: 26, textAnchor: "end", tickFormat: d => d.toFixed(1), label: null, color: RED}),
    Plot.line(p.iso, {x: d => d[0], y: d => d[1], stroke: RED, strokeWidth: 3, strokeLinejoin: "round"})
  ];
  const r = Plot.plot({...base, x, y: {domain: [-7, 1], axis: null}, marks: im});

  div.appendChild(g);
  div.appendChild(r);
  chart.appendChild(div);
}

panels.forEach(makePanel);
</script>
</body></html>
